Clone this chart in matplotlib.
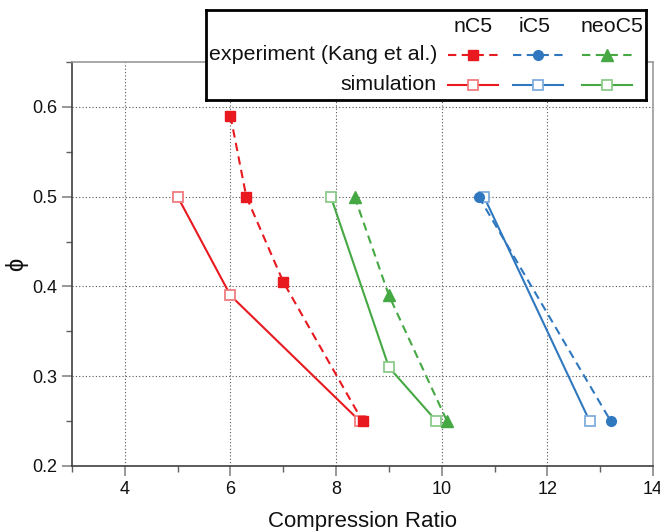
import matplotlib
matplotlib.use("Agg")
import matplotlib.pyplot as plt
from matplotlib.ticker import MultipleLocator

plt.rcParams['font.family'] = ['Liberation Sans', 'DejaVu Sans']

# ---- data ----
nC5_exp_cr = [6.0, 6.3, 7.0, 8.5]
nC5_exp_phi = [0.59, 0.50, 0.405, 0.25]
nC5_sim_cr = [5.0, 6.0, 8.45]
nC5_sim_phi = [0.50, 0.39, 0.25]

iC5_exp_cr = [10.7, 13.2]
iC5_exp_phi = [0.50, 0.25]
iC5_sim_cr = [10.8, 12.8]
iC5_sim_phi = [0.50, 0.25]

neoC5_exp_cr = [8.35, 9.0, 10.1]
neoC5_exp_phi = [0.50, 0.39, 0.25]
neoC5_sim_cr = [7.9, 9.0, 9.9]
neoC5_sim_phi = [0.50, 0.31, 0.25]

fuels = ['nC5', 'iC5', 'neoC5']
colors = {'nC5': '#E8191F', 'iC5': '#2F78BF', 'neoC5': '#45A843'}
light = {'nC5': '#F07D80', 'iC5': '#7FAEDD', 'neoC5': '#8CCB8A'}
exp_markers = {'nC5': 's', 'iC5': 'o', 'neoC5': '^'}
exp_data = {'nC5': (nC5_exp_cr, nC5_exp_phi), 'iC5': (iC5_exp_cr, iC5_exp_phi),
            'neoC5': (neoC5_exp_cr, neoC5_exp_phi)}
sim_data = {'nC5': (nC5_sim_cr, nC5_sim_phi), 'iC5': (iC5_sim_cr, iC5_sim_phi),
            'neoC5': (neoC5_sim_cr, neoC5_sim_phi)}

fig = plt.figure(figsize=(6.6, 5.31), dpi=100)
ax = fig.add_axes([72/660, 1-466/531, 581/660, 404/531])

dash = (4, 2.6)
for f in fuels:
    c = colors[f]
    x, y = sim_data[f]
    ax.plot(x, y, '-', color=c, lw=1.5, marker='s', ms=7, mfc='white',
            mec=light[f], mew=1.3, zorder=3)
    x, y = exp_data[f]
    ms = 8 if exp_markers[f] == '^' else 7
    ax.plot(x, y, color=c, lw=1.5, linestyle=(0, dash), marker=exp_markers[f],
            ms=ms, mfc=c, mec=c, zorder=4)

ax.set_xlim(3, 14)
ax.set_ylim(0.2, 0.65)
ax.xaxis.set_minor_locator(MultipleLocator(1))
ax.yaxis.set_minor_locator(MultipleLocator(0.05))
ax.set_yticks([0.2, 0.3, 0.4, 0.5, 0.6])
ax.set_xticks([4, 6, 8, 10, 12, 14])
ax.grid(True, which='major', linestyle=(0, (1, 2)), color='#555555', lw=0.8)
ax.tick_params(which='major', direction='out', length=7, width=1.3,
               color='#909090', labelsize=13, labelcolor='#111111')
ax.tick_params(which='minor', direction='out', length=4, width=1.0,
               color='#606060')
for s in ['left', 'bottom']:
    ax.spines[s].set_color('#404040')
    ax.spines[s].set_linewidth(1.2)
for s in ['top', 'right']:
    ax.spines[s].set_color('#9a9a9a')
    ax.spines[s].set_linewidth(1.2)
ax.set_xlabel('Compression Ratio', fontsize=16, color='#111111')
ax.xaxis.set_label_coords(0.5, -(511-466)/404)
ax.set_ylabel('ϕ', fontsize=17, color='#111111')
ax.yaxis.set_label_coords(-(72-28)/581, 0.5)

# ---- custom table legend ----
lax = fig.add_axes([206/660, 1-100/531, 440/660, 90/531])
lax.set_xlim(0, 440)
lax.set_ylim(90, 0)
lax.set_xticks([])
lax.set_yticks([])
lax.set_facecolor('white')
for s in lax.spines.values():
    s.set_linewidth(2)
    s.set_color('black')

fs = 15.4
centers = [267, 332, 401]
header_x = [267, 329, 406]
row_exp, row_sim, row_head = 45, 75, 17
for f, cx, hx in zip(fuels, centers, header_x):
    lax.text(hx, row_head, f, ha='center', va='center', fontsize=fs, color='#111111')
    c = colors[f]
    lax.plot([cx-25, cx+25], [row_exp, row_exp], color=c, lw=1.5,
             linestyle=(0, dash))
    ms = 8 if exp_markers[f] == '^' else 7
    lax.plot([cx], [row_exp], marker=exp_markers[f], ms=ms, color=c)
    lax.plot([cx-25, cx+25], [row_sim, row_sim], color=c, lw=1.5)
    lax.plot([cx], [row_sim], marker='s', ms=7, mfc='white', mec=light[f], mew=1.3)
lax.text(231, row_exp, 'experiment (Kang et al.)', ha='right', va='center',
         fontsize=fs, color='#111111')
lax.text(231, row_sim, 'simulation', ha='right', va='center', fontsize=fs,
         color='#111111')

fig.savefig('out.png', dpi=100)
